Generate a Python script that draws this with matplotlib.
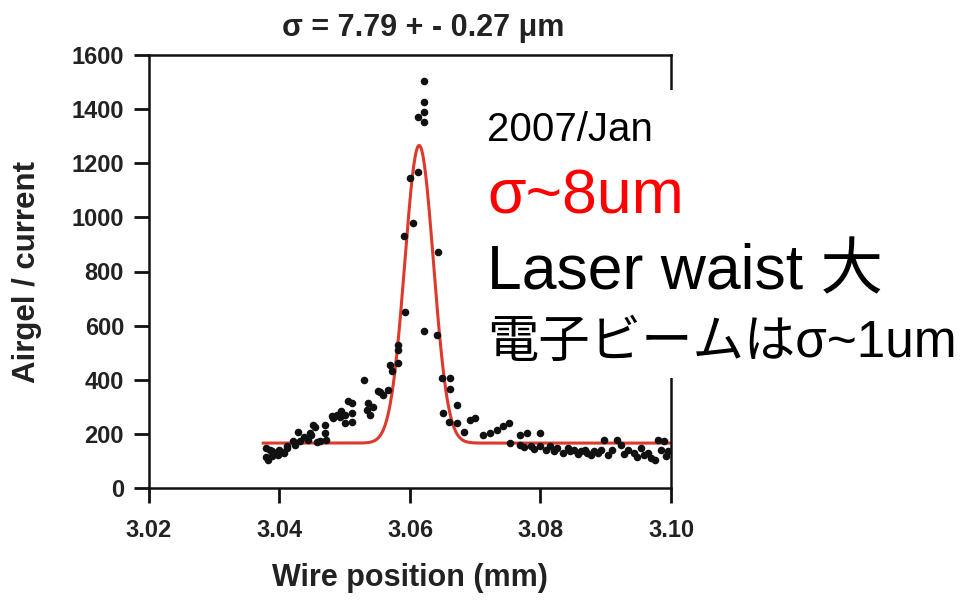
import numpy as np
import matplotlib.pyplot as plt
from matplotlib.patches import Rectangle

# wire scan: position (mm) vs airgel signal / current
wire_pos = [
    3.0380, 3.0380, 3.0382, 3.0385, 3.0389, 3.0389, 3.0392, 3.0397, 3.0400, 3.0403,
    3.0407, 3.0411, 3.0412, 3.0420, 3.0423, 3.0428, 3.0431, 3.0438, 3.0443, 3.0446,
    3.0449, 3.0451, 3.0454, 3.0458, 3.0462, 3.0469, 3.0469, 3.0472, 3.0480, 3.0482,
    3.0488, 3.0492, 3.0495, 3.0500, 3.0500, 3.0505, 3.0511, 3.0511, 3.0511, 3.0529,
    3.0534, 3.0535, 3.0538, 3.0543, 3.0551, 3.0554, 3.0558, 3.0566, 3.0569, 3.0572,
    3.0582, 3.0582, 3.0582,
    3.0591, 3.0592, 3.0600, 3.0605, 3.0612, 3.0612, 3.0622, 3.0622, 3.0622, 3.0622,
    3.0621, 3.0641, 3.0643,
    3.0649, 3.0662, 3.0662, 3.0672, 3.0650, 3.0660, 3.0672, 3.0682, 3.0692, 3.0700,
    3.0712, 3.0723, 3.0734, 3.0743, 3.0751, 3.0769, 3.0780, 3.0800, 3.0754, 3.0769,
    3.0785, 3.0800, 3.0815, 3.0826, 3.0842, 3.0851, 3.0862, 3.0872, 3.0882, 3.0892,
    3.0897, 3.0903, 3.0918, 3.0923, 3.0934, 3.0943, 3.0954, 3.0958, 3.0969, 3.0980,
    3.0985, 3.0989, 3.0995,
    3.0775, 3.0790, 3.0808, 3.0820, 3.0835, 3.0845, 3.0857, 3.0868, 3.0878, 3.0888,
    3.0910, 3.0928, 3.0948, 3.0964, 3.0975, 3.0993,
]
signal = [
    147, 115, 103, 140, 118, 136, 129, 122, 140, 133,
    128, 154, 148, 173, 159, 207, 175, 189, 177, 202,
    196, 232, 225, 170, 173, 233, 203, 177, 265, 259,
    268, 262, 283, 270, 240, 320, 314, 277, 244, 400,
    288, 314, 270, 300, 357, 355, 344, 362, 455, 434,
    462, 510, 528,
    931, 650, 1145, 979, 1168, 1371, 1352, 1389, 1426, 1504,
    580, 565, 872,
    406, 406, 366, 307, 277, 244, 240, 207, 251, 259,
    195, 202, 213, 228, 239, 195, 202, 203, 165, 158,
    154, 154, 154, 147, 147, 140, 136, 129, 136, 140,
    177, 121, 177, 158, 140, 129, 147, 121, 110, 177,
    140, 173, 136,
    150, 145, 140, 135, 128, 135, 125, 140, 122, 128,
    140, 125, 115, 130, 105, 118,
]

# gaussian fit on a flat background
fit_center = 3.0614
fit_width = 0.0022
fit_amp = 1100
fit_base = 166
fit_range = (3.0375, 3.10)

beam_sigma = 7.79
beam_sigma_err = 0.27

x_ticks = [3.02, 3.04, 3.06, 3.08, 3.10]
y_ticks = [0, 200, 400, 600, 800, 1000, 1200, 1400, 1600]

notes = [
    ("2007/Jan", 29, "black", 141),
    ("σ~8um", 45, "red", 214),
    ("Laser waist 大", 45, "black", 289),
    ("電子ビームはσ~1um", 37, "black", 357),
]

W, H = 962, 601
fig = plt.figure(figsize=(W / 100, H / 100), dpi=100)
ax = fig.add_axes([149 / W, 1 - 488 / H, 522 / W, 433 / H])

xf = np.linspace(fit_range[0], fit_range[1], 600)
yf = fit_base + fit_amp * np.exp(-(xf - fit_center) ** 2 / (2 * fit_width ** 2))
ax.plot(xf, yf, color='#dc3a2c', lw=2.2, zorder=2)
ax.scatter(wire_pos, signal, s=30, color='#111111', lw=0, zorder=3)

ax.set_xlim(3.02, 3.10)
ax.set_ylim(0, 1600)
ax.set_xticks(x_ticks)
ax.set_xticklabels([f'{v:.2f}' for v in x_ticks])
ax.set_yticks(y_ticks)

bold = dict(family='Liberation Sans', weight='bold')
for lab in ax.get_xticklabels() + ax.get_yticklabels():
    lab.set_fontproperties('Liberation Sans')
    lab.set_fontweight('bold')
    lab.set_fontsize(17)
    lab.set_color('#222222')
ax.tick_params(axis='both', direction='out', length=11, width=2, color='#111111')
ax.tick_params(axis='x', pad=11)
ax.tick_params(axis='y', pad=7)
for sp in ax.spines.values():
    sp.set_linewidth(1.8)
    sp.set_color('#111111')

fig.text(423 / W, 1 - 36 / H, f'σ = {beam_sigma:.2f} + - {beam_sigma_err:.2f} μm',
         ha='center', va='baseline', fontsize=22, color='#222222', **bold)
fig.text(410 / W, 1 - 578 / H, 'Wire position (mm)', ha='center', va='center',
         fontsize=22, color='#222222', **bold)
fig.text(27 / W, 1 - 272 / H, 'Airgel / current', ha='center', va='center',
         rotation=90, fontsize=22.5, color='#222222', **bold)

# white note box laid over the right side of the plot
fig.add_artist(Rectangle((470 / W, 1 - 378 / H), 492 / W, 288 / H,
                         transform=fig.transFigure, facecolor='white',
                         edgecolor='none', zorder=5))
for txt, size, col, base in notes:
    fig.text(487 / W, 1 - base / H, txt, ha='left', va='baseline', fontsize=size,
             color=col, family=['Liberation Sans', 'Noto Sans CJK JP'], zorder=6)

fig.savefig('out.png', dpi=100)
